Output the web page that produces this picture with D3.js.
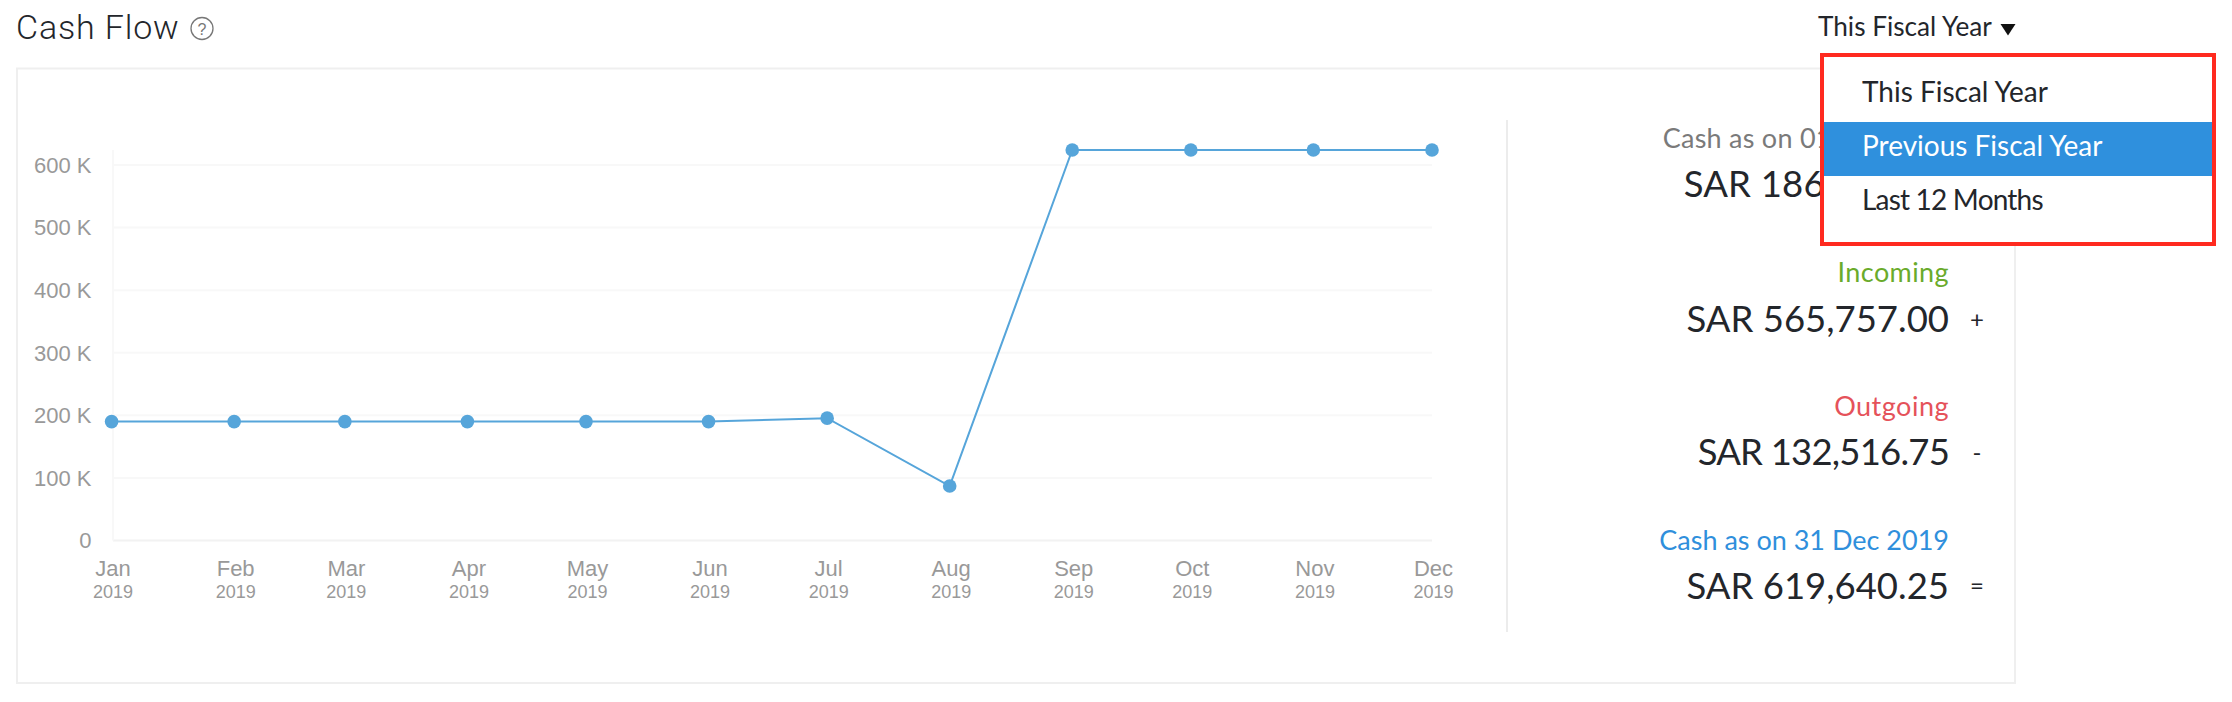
<!DOCTYPE html>
<html><head><meta charset="utf-8">
<script src="https://cdn.jsdelivr.net/npm/d3@7/dist/d3.min.js"></script>
<style>
html,body{margin:0;padding:0;background:#fff;overflow:hidden}
svg{display:block}
.axis path{display:none}
.axis text{font-family:"Liberation Sans",Arial,sans-serif;fill:#999}
.ui{font-family:Lato,"Open Sans",sans-serif}
</style></head><body>
<svg id="c" width="2232" height="702"></svg>
<script>
const months=["Jan","Feb","Mar","Apr","May","Jun","Jul","Aug","Sep","Oct","Nov","Dec"];
const years=["2019","2019","2019","2019","2019","2019","2019","2019","2019","2019","2019","2019"];
const dates=["2019-01-01","2019-02-01","2019-03-01","2019-04-01","2019-05-01","2019-06-01","2019-07-01","2019-08-01","2019-09-01","2019-10-01","2019-11-01","2019-12-01"].map(d=>new Date(d+"T00:00:00Z"));
const cash=[190000,190000,190000,190000,190000,190000,195500,87000,624000,624000,624000,624000];
const yTicks=[0,100000,200000,300000,400000,500000,600000];
const menuItems=["This Fiscal Year","Previous Fiscal Year","Last 12 Months"];
const summaryLabels=["Cash as on 01 Jan 2019","Incoming","Outgoing","Cash as on 31 Dec 2019"];
const summaryValues=["SAR 186,400.00","SAR 565,757.00","SAR 132,516.75","SAR 619,640.25"];
const summaryOps=["","+","-","="];

const svg=d3.select("#c");
const x=d3.scaleUtc().domain([dates[0],dates[11]]).range([111.6,1432]);
const y=d3.scaleLinear().domain([0,600000]).range([540.5,165]);

// card and divider
svg.append("rect").attr("x",17).attr("y",68.5).attr("width",1998).attr("height",614.5).attr("fill","#fff").attr("stroke","#efefef").attr("stroke-width",2);
svg.append("line").attr("x1",1507).attr("x2",1507).attr("y1",120).attr("y2",632).attr("stroke","#ececec").attr("stroke-width",2);

// title
svg.append("text").attr("x",16).attr("y",39).style("font-family","Roboto").attr("font-weight",300).attr("font-size",34).attr("letter-spacing",0.85).attr("fill","#23262b").text("Cash Flow");
svg.append("circle").attr("cx",202).attr("cy",28.5).attr("r",11).attr("fill","none").attr("stroke","#777").attr("stroke-width",1.3);
svg.append("text").attr("x",202).attr("y",34.5).attr("text-anchor","middle").attr("font-family","Liberation Sans").attr("font-size",16).attr("fill","#777").text("?");

// y axis + gridlines
const gy=svg.append("g").attr("class","axis").attr("transform","translate(113,0)")
  .call(d3.axisLeft(y).tickValues(yTicks).tickSize(0).tickPadding(21.5).tickFormat(v=>v===0?"0":(v/1000)+" K"));
gy.selectAll("text").attr("font-size",22).style("font-size","22px").attr("dy","0.33em");
svg.insert("g","g.axis").selectAll("line").data(yTicks).join("line")
  .attr("x1",113).attr("x2",1432).attr("y1",d=>y(d)).attr("y2",d=>y(d))
  .attr("stroke",d=>d===0?"#f2f2f2":"#f8f8f8").attr("stroke-width",2);
svg.insert("line","g.axis").attr("x1",113).attr("x2",113).attr("y1",150).attr("y2",540.5).attr("stroke","#f8f8f8").attr("stroke-width",2);

// x axis: month with year beneath
const gx=svg.append("g").attr("class","axis").attr("transform","translate(1,540.5)")
  .call(d3.axisBottom(x).tickValues(dates).tickSize(0).tickFormat(""));
gx.selectAll(".tick text").each(function(d,i){
  const t=d3.select(this).attr("y",null).attr("dy",null);
  t.append("tspan").attr("x",0).attr("y",35.5).attr("font-size",22).style("font-size","22px").text(months[i]);
  t.append("tspan").attr("x",0).attr("y",57.5).attr("font-size",18).style("font-size","18px").text(years[i]);
});

// series
const pts=dates.map((d,i)=>[d,cash[i]]);
svg.append("path").datum(pts).attr("fill","none").attr("stroke","#56a5da").attr("stroke-width",2)
  .attr("d",d3.line().x(d=>x(d[0])).y(d=>y(d[1])));
svg.append("g").selectAll("circle").data(pts).join("circle")
  .attr("cx",d=>x(d[0])).attr("cy",d=>y(d[1])).attr("r",6.8).attr("fill","#56a5da");

// summary column
const sumLabelY=[148,282,416,550], sumValueY=[197,332,465,599], sumColors=["#7a7a7a","#6aab2b","#e5525a","#2f8fdc"];
const labelSpacing=[0.25,0.4,0.5,0], valueSpacing=[0.2,0,-0.8,0];
const ui=svg.append("g").attr("class","ui");
summaryLabels.forEach((s,i)=>{
  ui.append("text").attr("x",1949).attr("y",sumLabelY[i]).attr("text-anchor","end").attr("font-size",27).attr("letter-spacing",labelSpacing[i]).attr("fill",sumColors[i]).text(s);
  ui.append("text").attr("x",1949).attr("y",sumValueY[i]).attr("text-anchor","end").attr("font-size",36.5).attr("letter-spacing",valueSpacing[i]).attr("fill","#23262b").text(summaryValues[i]);
  if(summaryOps[i]) ui.append("text").attr("x",1977).attr("y",sumValueY[i]-(i===3?5:4)).attr("text-anchor","middle").attr("font-size",24).attr("fill","#23262b").text(summaryOps[i]);
});

// dropdown header
ui.append("text").attr("x",1818).attr("y",35.5).attr("font-size",26.2).attr("fill","#23262b").text(menuItems[0]);
svg.append("path").attr("d",d3.line()([[2000.5,24],[2015.5,24],[2008,35.5]])+"Z").attr("fill","#111");

// dropdown menu
svg.append("rect").attr("x",1822).attr("y",55).attr("width",392).attr("height",189).attr("fill","#fff").attr("stroke","#ff2a1f").attr("stroke-width",4);
svg.append("rect").attr("x",1824).attr("y",122).attr("width",388).attr("height",54).attr("fill","#2f90dd");
const menuY=[102,156,210], menuSpacing=[0,0,-0.8];
menuItems.forEach((s,i)=>{
  svg.append("text").attr("class","ui").attr("x",1862).attr("y",menuY[i]).attr("font-size",28).attr("letter-spacing",menuSpacing[i]).attr("fill",i===1?"#fff":"#23262b").text(s);
});
</script>
</body></html>
